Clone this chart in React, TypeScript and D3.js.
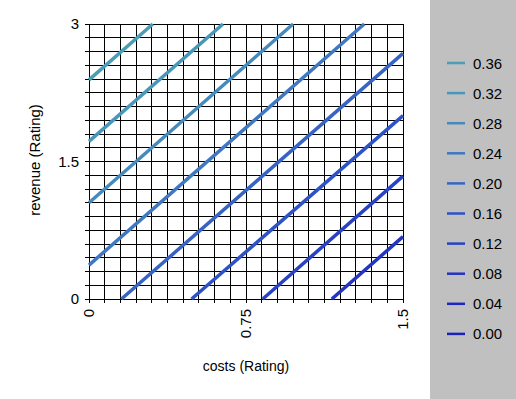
import React from "react";
import * as d3 from "d3";

// legend levels, top to bottom
const levels = ["0.36", "0.32", "0.28", "0.24", "0.20", "0.16", "0.12", "0.08", "0.04", "0.00"];
const levelColors = [
  "#4a9db5", "#4896b9", "#458abd", "#3f78c1", "#3764c4",
  "#2d52c5", "#2743c4", "#2234c1", "#1e2abc", "#1a22b8",
];

// visible line segments per level: [costs, revenue] start and end
const lineStarts: [number, number][] = [
  [0, 2.39], [0, 1.72], [0, 1.05], [0, 0.37],
  [0.155, 0], [0.49, 0], [0.83, 0], [1.16, 0],
];
const lineEnds: [number, number][] = [
  [0.305, 3], [0.64, 3], [0.975, 3], [1.315, 3],
  [1.5, 2.68], [1.5, 2.0], [1.5, 1.34], [1.5, 0.68],
];

const xTickLabels = [0, 0.75, 1.5];
const yTickLabels = [0, 1.5, 3];

const W = 516;
const H = 399;
const margin = { left: 89, top: 24, right: 403, bottom: 299 };

export default function App() {
  const x = d3.scaleLinear().domain([0, 1.5]).range([margin.left, margin.right]);
  const y = d3.scaleLinear().domain([0, 3]).range([margin.bottom, margin.top]);

  const xGrid = d3.range(0, 21).map((i) => i * 0.075);
  const yGrid = d3.range(0, 21).map((i) => i * 0.15);

  const line = d3
    .line<[number, number]>()
    .x((d) => x(d[0]))
    .y((d) => y(d[1]));

  const font = "'Liberation Sans', Arial, sans-serif";

  return (
    <svg
      width={W}
      height={H}
      style={{ position: "absolute", left: 0, top: 0 }}
      fontFamily={font}
    >
      <rect x={0} y={0} width={W} height={H} fill="#fff" />
      <rect x={430} y={0} width={W - 430} height={H} fill="#c0c0c0" />

      {/* grid */}
      <g stroke="#000" strokeWidth={1} shapeRendering="crispEdges">
        {xGrid.map((v, i) => (
          <line key={"x" + i} x1={x(v)} x2={x(v)} y1={margin.top} y2={margin.bottom + 4} />
        ))}
        {yGrid.map((v, i) => (
          <line key={"y" + i} x1={margin.left - 4} x2={margin.right} y1={y(v)} y2={y(v)} />
        ))}
      </g>

      {/* contour lines */}
      <g fill="none" strokeWidth={3.5} strokeLinecap="butt">
        {lineStarts.map((s, i) => (
          <path key={i} d={line([s, lineEnds[i]]) || ""} stroke={levelColors[i]} />
        ))}
      </g>

      {/* y tick labels */}
      <g fontSize={15} textAnchor="end">
        {yTickLabels.map((v) => (
          <text key={v} x={margin.left - 10} y={y(v) + 5}>
            {v}
          </text>
        ))}
      </g>

      {/* x tick labels, rotated */}
      <g fontSize={15} textAnchor="end">
        {xTickLabels.map((v) => (
          <text
            key={v}
            transform={`translate(${x(v) + 5},${margin.bottom + 10}) rotate(-90)`}
          >
            {v}
          </text>
        ))}
      </g>

      <text x={246} y={371} fontSize={14} textAnchor="middle">
        costs (Rating)
      </text>
      <text
        transform={`translate(40,160) rotate(-90)`}
        fontSize={15}
        textAnchor="middle"
      >
        revenue (Rating)
      </text>

      {/* legend */}
      <g>
        {levels.map((l, i) => (
          <g key={l} transform={`translate(0,${63 + i * 30.1})`}>
            <line x1={447} x2={465} y1={0} y2={0} stroke={levelColors[i]} strokeWidth={2.5} />
            <text x={473} y={5.5} fontSize={15}>
              {l}
            </text>
          </g>
        ))}
      </g>
    </svg>
  );
}
